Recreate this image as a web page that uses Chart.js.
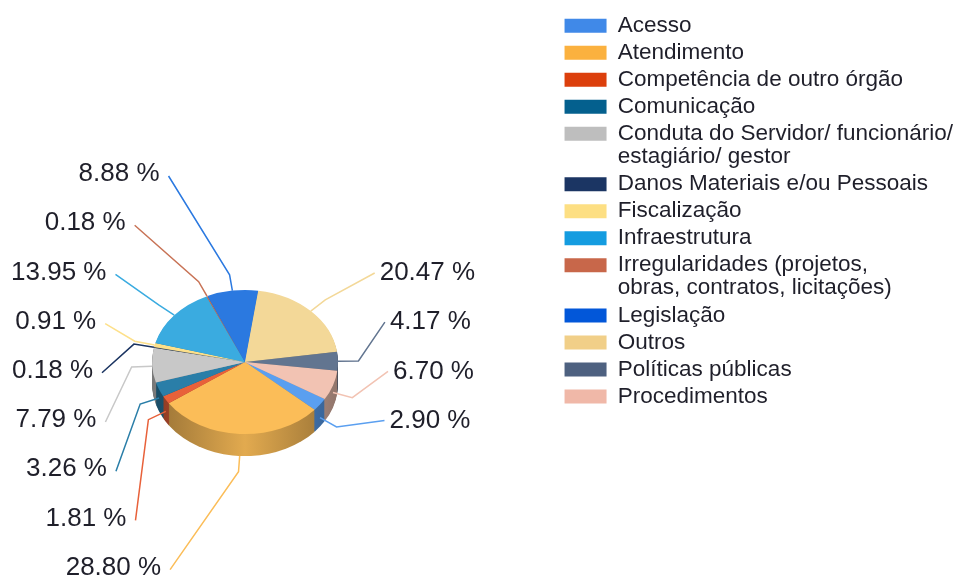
<!DOCTYPE html>
<html>
<head>
<meta charset="utf-8">
<script src="https://cdn.jsdelivr.net/npm/chart.js@4"></script>
<style>
    html, body { margin: 0; padding: 0; background: #fff; }
    #wrap { width: 961px; height: 579px; position: relative; }
</style>
</head>
<body>
<div id="wrap"><canvas id="pieChart"></canvas></div>
<script>
const categorias = [
    'Acesso',
    'Atendimento',
    'Competência de outro órgão',
    'Comunicação',
    ['Conduta do Servidor/ funcionário/', 'estagiário/ gestor'],
    'Danos Materiais e/ou Pessoais',
    'Fiscalização',
    'Infraestrutura',
    ['Irregularidades (projetos,', 'obras, contratos, licitações)'],
    'Legislação',
    'Outros',
    'Políticas públicas',
    'Procedimentos'
];
const percentuais = [2.90, 28.80, 1.81, 3.26, 7.79, 0.18, 0.91, 13.95, 0.18, 8.88, 20.47, 4.17, 6.70];
const rotulos = percentuais.map(v => `${v.toFixed(2)} %`);

// cores das fatias (face de cima) e da legenda
const coresFatias = ['#5a9ff0', '#fbbd58', '#e8613a', '#2a7ea8', '#c8c8c8', '#1b3461', '#fde08a',
    '#3aabe0', '#c87356', '#2b79e0', '#f3d898', '#627590', '#f2c3b3'];
const coresLegenda = ['#4089e8', '#fbb13f', '#dc3f0c', '#04608e', '#bebebe', '#1b3563', '#fddf83',
    '#149ce0', '#c8674a', '#0257d9', '#f1cf88', '#4e6180', '#f0b8a8'];

const vista = { cx: 245, cy: 362, escalaY: 0.775, profundidade: 22 };

function escurecer(hex, f) {
    const n = parseInt(hex.slice(1), 16);
    const r = Math.round(((n >> 16) & 255) * f);
    const g = Math.round(((n >> 8) & 255) * f);
    const b = Math.round((n & 255) * f);
    return `rgb(${r}, ${g}, ${b})`;
}

const pie3d = {
    id: 'pie3d',
    beforeDatasetsDraw(chart) {
        const ctx = chart.ctx;
        const arcs = chart.getDatasetMeta(0).data;
        const x0 = arcs[0].x;
        const y0 = arcs[0].y;
        const R = arcs[0].outerRadius;
        ctx.save();
        ctx.translate(vista.cx, vista.cy);
        ctx.scale(1, vista.escalaY);
        ctx.translate(-x0, -y0);

        const gradientes = arcs.map((arc, i) => {
            const g = ctx.createLinearGradient(x0 - R, 0, x0 + R, 0);
            g.addColorStop(0, escurecer(coresFatias[i], 0.6));
            g.addColorStop(0.5, escurecer(coresFatias[i], 0.9));
            g.addColorStop(1, escurecer(coresFatias[i], 0.6));
            return g;
        });

        for (let d = vista.profundidade; d > 0; d--) {
            const off = d / vista.escalaY;
            arcs.forEach((arc, i) => {
                ctx.beginPath();
                ctx.moveTo(x0, y0 + off);
                ctx.arc(x0, y0 + off, arc.outerRadius, arc.startAngle, arc.endAngle);
                ctx.closePath();
                ctx.fillStyle = gradientes[i];
                ctx.fill();
            });
        }
    },
    afterDatasetsDraw(chart) {
        const ctx = chart.ctx;
        ctx.restore();

        const arcs = chart.getDatasetMeta(0).data;
        const R = arcs[0].outerRadius;
        const proj = (ang, f, desce) => ({
            x: vista.cx + Math.cos(ang) * R * f,
            y: vista.cy + Math.sin(ang) * R * f * vista.escalaY + desce
        });

        const itens = arcs.map((arc, i) => {
            const mid = (arc.startAngle + arc.endAngle) / 2;
            let a = (mid + Math.PI / 2) % (2 * Math.PI);
            if (a < 0) a += 2 * Math.PI;
            return { i, mid, a };
        });
        const direita = itens.filter(t => t.a < Math.PI).sort((p, q) => p.a - q.a);
        const esquerda = itens.filter(t => t.a >= Math.PI).sort((p, q) => q.a - p.a);

        const passo = 49.2;
        const elipseX = 152, elipseY = 237, elipseCy = vista.cy + 8;
        const xNaElipse = y => elipseX * Math.sqrt(Math.max(0, 1 - Math.pow((y - elipseCy) / elipseY, 2)));

        ctx.save();
        ctx.font = '26px "Liberation Sans", Arial, sans-serif';
        ctx.textBaseline = 'middle';
        ctx.lineWidth = 1.5;

        const desenhar = (t, y, lado) => {
            const dx = xNaElipse(y);
            const x = lado < 0 ? vista.cx - dx : vista.cx + dx - 4;
            const desce = vista.profundidade * Math.max(0, Math.sin(t.mid));
            const borda = proj(t.mid, 1.0, desce);
            const dobra = proj(t.mid, 1.22, desce);
            const ponta = lado < 0 ? { x: x + 9, y: y + 2 } : { x: x - 5, y: y };
            ctx.strokeStyle = coresFatias[t.i];
            ctx.beginPath();
            ctx.moveTo(borda.x, borda.y);
            ctx.lineTo(dobra.x, dobra.y);
            ctx.lineTo(ponta.x, ponta.y);
            ctx.stroke();
            ctx.fillStyle = '#1f1f2a';
            ctx.textAlign = lado < 0 ? 'right' : 'left';
            ctx.fillText(rotulos[t.i], x, y);
        };

        esquerda.forEach((t, k) => desenhar(t, vista.cy - 188 + k * passo, -1));
        direita.forEach((t, k) => desenhar(t, vista.cy - 89 + k * passo, 1));
        ctx.restore();
    }
};

const ctxPie = document.getElementById('pieChart').getContext('2d');
new Chart(ctxPie, {
    type: 'pie',
    data: {
        labels: categorias,
        datasets: [{
            data: percentuais,
            backgroundColor: coresFatias,
            borderWidth: 0,
            radius: 93,
            rotation: 121
        }]
    },
    options: {
        responsive: true,
        maintainAspectRatio: false,
        animation: false,
        events: [],
        layout: {
            padding: { top: 10, right: -2 }
        },
        plugins: {
            tooltip: { enabled: false },
            legend: {
                position: 'right',
                align: 'start',
                labels: {
                    boxWidth: 42,
                    boxHeight: 14,
                    padding: 4.5,
                    color: '#1f1f2a',
                    font: {
                        family: '"Liberation Sans", Arial, sans-serif',
                        size: 22.5,
                        lineHeight: 1.02
                    },
                    generateLabels(chart) {
                        const itens = Chart.overrides.pie.plugins.legend.labels.generateLabels(chart);
                        itens.forEach((it, i) => {
                            it.fillStyle = coresLegenda[i];
                            it.strokeStyle = coresLegenda[i];
                            it.lineWidth = 0;
                        });
                        return itens;
                    }
                }
            }
        }
    },
    plugins: [pie3d]
});
</script>
</body>
</html>
